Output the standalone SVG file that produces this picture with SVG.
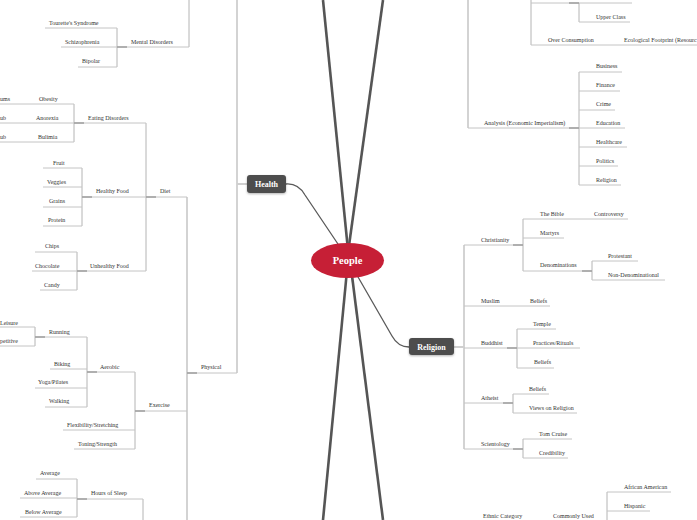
<svg xmlns="http://www.w3.org/2000/svg" width="697" height="520" viewBox="0 0 697 520">
<defs>
<style>
.t{font-family:"Liberation Serif","DejaVu Serif",serif;font-size:6px;fill:#333}
.u{stroke:#c4c4c4;stroke-width:1;fill:none}
.b{stroke:#b4b4b4;stroke-width:1;fill:none}
.m{stroke:#cfcfcf;stroke-width:1.8;fill:none}
.d{stroke:#7a7a7a;stroke-width:1.3;fill:none}
.k{stroke:#555;stroke-width:2.6;fill:none}
.c{stroke:#5a5a5a;stroke-width:1.3;fill:none}
.n{fill:#4d4d4d}
.nt{font-family:"Liberation Serif","DejaVu Serif",serif;font-size:8px;font-weight:bold;fill:#fff}
</style>
<filter id="sh" x="-20%" y="-20%" width="140%" height="160%"><feDropShadow dx="0" dy="1" stdDeviation="0.8" flood-color="#000" flood-opacity="0.3"/></filter>
</defs>
<rect width="697" height="520" fill="#fff"/>

<g id="connectors">
<path class="k" d="M323,0 L349,260"/>
<path class="k" d="M383,0 L347,260"/>
<path class="k" d="M323,520 L348,260"/>
<path class="k" d="M383,520 L350,260"/>
<path class="c" d="M286,184 Q298,183 305,195 L342,250"/>
<path class="c" d="M354,270 L392,336 Q398,347 409,347"/>
<!-- health side -->
<path class="m" d="M237,0 V373 M237,184 H247"/>
<path class="m" d="M187,197 V520"/>
<path class="b" d="M189,0 V47"/>
<path class="b" d="M117,28 V67"/>
<path class="b" d="M74,104 V142"/>
<path class="b" d="M146,123 V271"/>
<path class="b" d="M82,168 V226"/>
<path class="b" d="M77,252 V290"/>
<path class="b" d="M35,327 V346"/>
<path class="b" d="M87,337 V407"/>
<path class="b" d="M135,372 V449"/>
<path class="b" d="M77,479 V517"/>
<path class="b" d="M143,499 V520"/>
<path class="d" d="M117,47 H127 M74,123 H84 M82,197 H92 M77,271 H87 M146,197 H156 M35,337 H45 M87,372 H97 M135,411 H145 M187,373 H197 M77,499 H87"/>
<!-- top right -->
<path class="m" d="M468,0 V128"/>
<path class="b" d="M531,0 V45"/>
<path class="b" d="M579,3 V22"/>
<path class="b" d="M579,72 V185"/>
<path class="d" d="M569,3 H579 M569,128 H579"/>
<!-- religion -->
<path class="m" d="M454,347 H464 M464,245 V449"/>
<path class="b" d="M523,219 V271"/>
<path class="b" d="M592,261 V280"/>
<path class="b" d="M517,329 V368"/>
<path class="b" d="M513,394 V413"/>
<path class="b" d="M523,439 V458"/>
<path class="b" d="M607,492 V520"/>
<path class="d" d="M513,245 H523 M582,271 H592 M507,348 H517 M503,403 H513 M513,449 H523"/>
</g>

<g id="people">
<ellipse cx="347.5" cy="260.5" rx="36.5" ry="17.5" fill="#c61f36"/>
<text x="347.5" y="264" text-anchor="middle" font-family="Liberation Serif, DejaVu Serif, serif" font-size="10.5" font-weight="bold" fill="#fff">People</text>
</g>
<g id="health"><rect class="n" x="247" y="175" width="39" height="18" rx="3" filter="url(#sh)"/><text class="nt" x="266.5" y="187" text-anchor="middle">Health</text></g>
<g id="religion"><rect class="n" x="409" y="338" width="45" height="17" rx="3" filter="url(#sh)"/><text class="nt" x="431.5" y="349.5" text-anchor="middle">Religion</text></g>

<!-- Mental -->
<g id="tourettes"><line class="u" x1="45" y1="28" x2="117" y2="28"/><text class="t" x="49" y="25">Tourette's Syndrome</text></g>
<g id="schizophrenia"><line class="u" x1="61" y1="47" x2="117" y2="47"/><text class="t" x="65" y="44">Schizophrenia</text></g>
<g id="bipolar"><line class="u" x1="78" y1="67" x2="117" y2="67"/><text class="t" x="82" y="63">Bipolar</text></g>
<g id="mental-disorders"><line class="u" x1="117" y1="47" x2="189" y2="47"/><text class="t" x="131" y="44">Mental Disorders</text></g>

<!-- Eating -->
<g id="ums"><text class="t" x="0" y="101">ums</text></g>
<g id="obesity"><line class="u" x1="0" y1="104" x2="74" y2="104"/><text class="t" x="39" y="101">Obesity</text></g>
<g id="ub1"><text class="t" x="0" y="120">ub</text></g>
<g id="anorexia"><line class="u" x1="0" y1="123" x2="74" y2="123"/><text class="t" x="36" y="120">Anorexia</text></g>
<g id="ub2"><text class="t" x="0" y="139">ub</text></g>
<g id="bulimia"><line class="u" x1="0" y1="142" x2="74" y2="142"/><text class="t" x="38" y="139">Bulimia</text></g>
<g id="eating-disorders"><line class="u" x1="74" y1="123" x2="146" y2="123"/><text class="t" x="88" y="120">Eating Disorders</text></g>

<!-- Healthy food -->
<g id="fruit"><line class="u" x1="43" y1="168" x2="82" y2="168"/><text class="t" x="53" y="165">Fruit</text></g>
<g id="veggies"><line class="u" x1="43" y1="187" x2="82" y2="187"/><text class="t" x="47" y="184">Veggies</text></g>
<g id="grains"><line class="u" x1="43" y1="207" x2="82" y2="207"/><text class="t" x="49" y="203">Grains</text></g>
<g id="protein"><line class="u" x1="43" y1="226" x2="82" y2="226"/><text class="t" x="48" y="222">Protein</text></g>
<g id="healthy-food"><line class="u" x1="82" y1="197" x2="146" y2="197"/><text class="t" x="96" y="193">Healthy Food</text></g>
<g id="chips"><line class="u" x1="35" y1="252" x2="77" y2="252"/><text class="t" x="45" y="248">Chips</text></g>
<g id="chocolate"><line class="u" x1="32" y1="271" x2="77" y2="271"/><text class="t" x="35" y="268">Chocolate</text></g>
<g id="candy"><line class="u" x1="40" y1="290" x2="77" y2="290"/><text class="t" x="44" y="287">Candy</text></g>
<g id="unhealthy-food"><line class="u" x1="77" y1="271" x2="146" y2="271"/><text class="t" x="90" y="268">Unhealthy Food</text></g>
<g id="diet"><line class="u" x1="146" y1="197" x2="187" y2="197"/><text class="t" x="160" y="193">Diet</text></g>

<!-- Exercise -->
<g id="leisure"><line class="u" x1="0" y1="327" x2="35" y2="327"/><text class="t" x="0" y="325">Leisure</text></g>
<g id="competitive"><line class="u" x1="0" y1="346" x2="35" y2="346"/><text class="t" x="0" y="343">petitive</text></g>
<g id="running"><line class="u" x1="35" y1="337" x2="87" y2="337"/><text class="t" x="49" y="334">Running</text></g>
<g id="biking"><line class="u" x1="50" y1="369" x2="87" y2="369"/><text class="t" x="54" y="366">Biking</text></g>
<g id="yoga"><line class="u" x1="35" y1="388" x2="87" y2="388"/><text class="t" x="38" y="384">Yoga/Pilates</text></g>
<g id="walking"><line class="u" x1="45" y1="407" x2="87" y2="407"/><text class="t" x="49" y="403">Walking</text></g>
<g id="aerobic"><line class="u" x1="87" y1="372" x2="135" y2="372"/><text class="t" x="100" y="369">Aerobic</text></g>
<g id="flexibility"><line class="u" x1="63" y1="430" x2="135" y2="430"/><text class="t" x="67" y="427">Flexibility/Stretching</text></g>
<g id="toning"><line class="u" x1="74" y1="449" x2="135" y2="449"/><text class="t" x="78" y="446">Toning/Strength</text></g>
<g id="exercise"><line class="u" x1="135" y1="411" x2="187" y2="411"/><text class="t" x="149" y="407">Exercise</text></g>
<g id="physical"><line class="u" x1="187" y1="373" x2="237" y2="373"/><text class="t" x="201" y="369">Physical</text></g>

<!-- Sleep -->
<g id="average"><line class="u" x1="36" y1="479" x2="77" y2="479"/><text class="t" x="40" y="475">Average</text></g>
<g id="above-average"><line class="u" x1="20" y1="498" x2="77" y2="498"/><text class="t" x="24" y="495">Above Average</text></g>
<g id="below-average"><line class="u" x1="20" y1="517" x2="77" y2="517"/><text class="t" x="25" y="514">Below Average</text></g>
<g id="hours-of-sleep"><line class="u" x1="77" y1="499" x2="143" y2="499"/><text class="t" x="91" y="495">Hours of Sleep</text></g>

<!-- Top right -->
<g id="class-top"><line class="u" x1="531" y1="3" x2="632" y2="3"/></g>
<g id="upper-class"><line class="u" x1="579" y1="22" x2="630" y2="22"/><text class="t" x="596" y="19">Upper Class</text></g>
<g id="over-consumption"><line class="u" x1="531" y1="45" x2="697" y2="45"/><text class="t" x="548" y="42">Over Consumption</text></g>
<g id="ecological"><text class="t" x="624" y="42">Ecological Footprint (Resourc</text></g>
<g id="analysis"><line class="u" x1="468" y1="128" x2="579" y2="128"/><text class="t" x="484" y="125">Analysis (Economic Imperialism)</text></g>
<g id="business"><line class="u" x1="579" y1="72" x2="622" y2="72"/><text class="t" x="596" y="68">Business</text></g>
<g id="finance"><line class="u" x1="579" y1="91" x2="620" y2="91"/><text class="t" x="596" y="87">Finance</text></g>
<g id="crime"><line class="u" x1="579" y1="110" x2="615" y2="110"/><text class="t" x="596" y="106">Crime</text></g>
<g id="education"><line class="u" x1="579" y1="128" x2="625" y2="128"/><text class="t" x="596" y="125">Education</text></g>
<g id="healthcare"><line class="u" x1="579" y1="147" x2="627" y2="147"/><text class="t" x="596" y="144">Healthcare</text></g>
<g id="politics"><line class="u" x1="579" y1="166" x2="618" y2="166"/><text class="t" x="596" y="163">Politics</text></g>
<g id="religion-econ"><line class="u" x1="579" y1="185" x2="621" y2="185"/><text class="t" x="596" y="182">Religion</text></g>

<!-- Religion -->
<g id="christianity"><line class="u" x1="464" y1="245" x2="523" y2="245"/><text class="t" x="481" y="242">Christianity</text></g>
<g id="the-bible"><line class="u" x1="523" y1="219" x2="628" y2="219"/><text class="t" x="540" y="216">The Bible</text></g>
<g id="controversy"><text class="t" x="594" y="216">Controversy</text></g>
<g id="martyrs"><line class="u" x1="523" y1="238" x2="564" y2="238"/><text class="t" x="540" y="235">Martyrs</text></g>
<g id="denominations"><line class="u" x1="523" y1="271" x2="592" y2="271"/><text class="t" x="540" y="267">Denominations</text></g>
<g id="protestant"><line class="u" x1="592" y1="261" x2="638" y2="261"/><text class="t" x="608" y="258">Protestant</text></g>
<g id="non-denominational"><line class="u" x1="592" y1="280" x2="665" y2="280"/><text class="t" x="608" y="277">Non-Denominational</text></g>
<g id="muslim"><line class="u" x1="464" y1="306" x2="550" y2="306"/><text class="t" x="481" y="303">Muslim</text></g>
<g id="muslim-beliefs"><text class="t" x="530" y="303">Beliefs</text></g>
<g id="buddhist"><line class="u" x1="464" y1="348" x2="517" y2="348"/><text class="t" x="481" y="345">Buddhist</text></g>
<g id="temple"><line class="u" x1="517" y1="329" x2="556" y2="329"/><text class="t" x="533" y="326">Temple</text></g>
<g id="practices"><line class="u" x1="517" y1="348" x2="580" y2="348"/><text class="t" x="533" y="345">Practices/Rituals</text></g>
<g id="buddhist-beliefs"><line class="u" x1="517" y1="368" x2="554" y2="368"/><text class="t" x="534" y="364">Beliefs</text></g>
<g id="atheist"><line class="u" x1="464" y1="403" x2="513" y2="403"/><text class="t" x="481" y="400">Atheist</text></g>
<g id="atheist-beliefs"><line class="u" x1="513" y1="394" x2="549" y2="394"/><text class="t" x="529" y="391">Beliefs</text></g>
<g id="views"><line class="u" x1="513" y1="413" x2="577" y2="413"/><text class="t" x="529" y="410">Views on Religion</text></g>
<g id="scientology"><line class="u" x1="464" y1="449" x2="523" y2="449"/><text class="t" x="481" y="446">Scientology</text></g>
<g id="tom-cruise"><line class="u" x1="523" y1="439" x2="572" y2="439"/><text class="t" x="539" y="436">Tom Cruise</text></g>
<g id="credibility"><line class="u" x1="523" y1="458" x2="568" y2="458"/><text class="t" x="539" y="455">Credibility</text></g>

<!-- Bottom -->
<g id="ethnic-category"><text class="t" x="483" y="518">Ethnic Category</text></g>
<g id="commonly-used"><text class="t" x="553" y="518">Commonly Used</text></g>
<g id="african-american"><line class="u" x1="607" y1="492" x2="671" y2="492"/><text class="t" x="624" y="489">African American</text></g>
<g id="hispanic"><line class="u" x1="607" y1="511" x2="650" y2="511"/><text class="t" x="624" y="508">Hispanic</text></g>
</svg>
